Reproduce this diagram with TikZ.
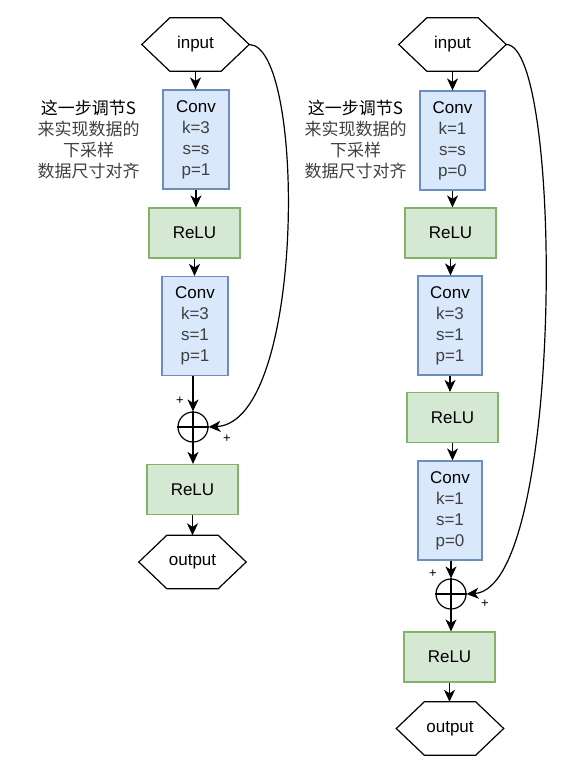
\documentclass[tikz,border=0pt]{standalone}
\usepackage{fontspec}
\setmainfont{Liberation Sans}
\newfontfamily\cjk{Noto Sans CJK SC}
\usetikzlibrary{arrows.meta}
\definecolor{convfill}{HTML}{DAE8FC}
\definecolor{convline}{HTML}{6C8EBF}
\definecolor{relufill}{HTML}{D5E8D4}
\definecolor{reluline}{HTML}{82B366}
\definecolor{subtxt}{HTML}{404040}
\begin{document}
\begin{tikzpicture}[x=1pt,y=-1pt,
 every node/.style={font=\fontsize{17}{21}\selectfont, inner sep=0pt},
 convbox/.style={draw=convline, fill=convfill, line width=1.2pt, minimum width=66pt, minimum height=99pt, align=center},
 relubox/.style={draw=reluline, fill=relufill, line width=1.2pt, minimum width=91pt, minimum height=50pt},
 hexnode/.style={minimum width=107pt, minimum height=53pt},
 hexline/.style={draw=black, line width=1.2pt, line join=miter},
 sumnode/.style={circle, draw=black, line width=1.2pt, minimum size=30pt},
 flow/.style={draw=black, line width=1.2pt, -{Stealth[length=12pt,width=11pt,inset=3.5pt]}},
 plusmark/.style={font=\fontsize{13}{13}\selectfont},
 note/.style={align=center, text=subtxt, font=\cjk\fontsize{17}{21}\selectfont}
]
\useasboundingbox (0,0) rectangle (584,770);

% ---------- left column ----------
\node[hexnode] (in1) at (195.5,44.5) {input};
\node[convbox] (conv1a) at (196,139.5) {Conv\\\textcolor{subtxt}{k=3}\\\textcolor{subtxt}{s=s}\\\textcolor{subtxt}{p=1}};
\node[relubox] (relu1a) at (194.5,233) {ReLU};
\node[convbox] (conv1b) at (195,326) {Conv\\\textcolor{subtxt}{k=3}\\\textcolor{subtxt}{s=1}\\\textcolor{subtxt}{p=1}};
\node[sumnode] (plus1) at (193,427) {};
\node[relubox] (relu1b) at (192.5,489.5) {ReLU};
\node[hexnode] (out1) at (192.5,562) {output};
\node[note] (note1) at (88.5,140) {\textcolor{black}{这一步调节S}\\来实现数据的\\下采样\\数据尺寸对齐};
\node[plusmark] (pa1) at (180,401) {+};
\node[plusmark] (pb1) at (227,439) {+};

% ---------- right column ----------
\node[hexnode] (in2) at (452.5,44.5) {input};
\node[convbox, minimum width=65pt] (conv2a) at (452.5,140.5) {Conv\\\textcolor{subtxt}{k=1}\\\textcolor{subtxt}{s=s}\\\textcolor{subtxt}{p=0}};
\node[relubox] (relu2a) at (450.5,233) {ReLU};
\node[convbox, minimum width=64pt] (conv2b) at (450,325.5) {Conv\\\textcolor{subtxt}{k=3}\\\textcolor{subtxt}{s=1}\\\textcolor{subtxt}{p=1}};
\node[relubox] (relu2b) at (452.5,417.5) {ReLU};
\node[convbox, minimum width=64pt] (conv2c) at (450,510.5) {Conv\\\textcolor{subtxt}{k=1}\\\textcolor{subtxt}{s=1}\\\textcolor{subtxt}{p=0}};
\node[sumnode] (plus2) at (451,594) {};
\node[relubox] (relu2c) at (449.5,657) {ReLU};
\node[hexnode] (out2) at (450,728.5) {output};
\node[note] (note2) at (355.5,140) {\textcolor{black}{这一步调节S}\\来实现数据的\\下采样\\数据尺寸对齐};
\node[plusmark] (pa2) at (433,574) {+};
\node[plusmark] (pb2) at (485,604) {+};

% hexagon outlines
\foreach \h in {in1,out1,in2,out2}{
  \draw[hexline] (\h.west) -- ([xshift=28pt]\h.north west) -- ([xshift=-28pt]\h.north east)
    -- (\h.east) -- ([xshift=-28pt]\h.south east) -- ([xshift=28pt]\h.south west) -- cycle;
}
% sum symbols
\foreach \s in {plus1,plus2}{
  \draw[line width=1.2pt] (\s.north) -- (\s.south) (\s.west) -- (\s.east);
}

% ---------- connectors ----------
\draw[flow] (in1.south) -- (in1.south |- conv1a.north);
\draw[flow] (conv1a.south) -- (conv1a.south |- relu1a.north);
\draw[flow] (relu1a.south) -- (relu1a.south |- conv1b.north);
\draw[flow] (conv1b.south -| plus1.north) -- (plus1.north);
\draw[flow] (plus1.south) -- (plus1.south |- relu1b.north);
\draw[flow] (relu1b.south) -- (relu1b.south |- out1.north);
\draw[flow] (in1.east) .. controls (306,45) and (306,422) .. (plus1.east);

\draw[flow] (in2.south) -- (in2.south |- conv2a.north);
\draw[flow] (conv2a.south) -- (conv2a.south |- relu2a.north);
\draw[flow] (relu2a.south) -- (relu2a.south |- conv2b.north);
\draw[flow] (conv2b.south) -- (conv2b.south |- relu2b.north);
\draw[flow] (relu2b.south) -- (relu2b.south |- conv2c.north);
\draw[flow] (conv2c.south -| plus2.north) -- (plus2.north);
\draw[flow] (plus2.south) -- (plus2.south |- relu2c.north);
\draw[flow] (relu2c.south) -- (relu2c.south |- out2.north);
\draw[flow] (in2.east) .. controls (564,44) and (564,588) .. (plus2.east);
\end{tikzpicture}
\end{document}
